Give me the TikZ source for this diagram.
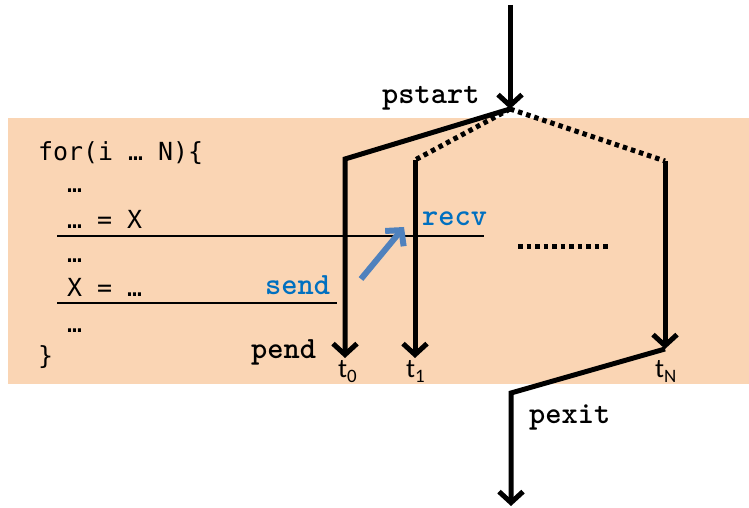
\documentclass[tikz,border=0pt]{standalone}
\usepackage{fontspec}
\setmainfont{Carlito}
\newfontfamily\codefont{DejaVu Sans Mono}
\newfontfamily\kwfont{Latin Modern Mono Light}
\usetikzlibrary{arrows.meta}
\definecolor{peach}{HTML}{FAD5B4}
\definecolor{sendblue}{HTML}{0070C0}
\definecolor{arrowblue}{HTML}{4F81BD}
\newcommand{\tsub}[1]{t\raisebox{-5bp}{\fontsize{19}{22}\selectfont #1}}

\begin{document}
\begin{tikzpicture}[x=1bp,y=-1bp,
  flow/.style={line width=5bp,line join=miter},
  tip/.style={-{Straight Barb[length=11bp,width=24bp]}},
  fork/.style={line width=5bp,dash pattern=on 4.5bp off 4bp},
  code/.style={anchor=base west,inner sep=0pt,font=\codefont\fontsize{25}{30}\selectfont},
  kw/.style={anchor=base west,inner sep=0pt,font=\kwfont\bfseries\fontsize{31}{34}\selectfont},
  tlab/.style={anchor=base west,inner sep=0pt,font=\fontsize{27}{30}\selectfont},
  rule/.style={line width=2.5bp}
]
  \useasboundingbox (0,0) rectangle (749,508);
  % loop body
  \fill[peach] (8,118) rectangle (749,384);

  % code
  \node[code] (for) at (38,161) {for(i … N)\{};
  \node[code] (l1) at (67,193) {…};
  \node[code] (rd) at (67,229) {… = X};
  \node[code] (l2) at (67,263) {…};
  \node[code] (wr) at (67,297) {X = …};
  \node[code] (l3) at (67,332) {…};
  \node[code] (close) at (38,364) {\}};
  \coordinate (rdL) at (57,236);
  \coordinate (rdR) at (484,236);
  \coordinate (wrL) at (57,303);
  \coordinate (wrR) at (337,303);
  \draw[rule] (rdL) -- (rdR);
  \draw[rule] (wrL) -- (wrR);

  % fork
  \coordinate (in) at (510,5);
  \coordinate (fork) at (510,109);
  \coordinate (c0) at (345,159);
  \coordinate (c1) at (415,160);
  \coordinate (cN) at (665,161);
  \coordinate (e0) at (345,358);
  \coordinate (e1) at (415,358);
  \coordinate (eN) at (665,349);
  \coordinate (join) at (511,393);
  \coordinate (out) at (511,506);
  \draw[flow,tip] (in) -- (fork);
  \draw[flow,tip] (fork) -- (c0) -- (e0);
  \draw[fork] (fork) -- (c1);
  \draw[flow,tip] (c1) -- (e1);
  \draw[fork] (fork) -- (cN);
  \draw[flow,tip] (cN) -- (eN);
  \draw[flow,tip] (eN) -- (join) -- (out);
  \coordinate (dotL) at (518,247);
  \coordinate (dotR) at (608,247);
  \draw[fork] (dotL) -- (dotR);

  % labels
  \node[kw] (pstart) at (382,104) {pstart};
  \node[kw] (pend) at (251,358) {pend};
  \node[kw] (pexit) at (529,423) {pexit};
  \node[kw,text=sendblue] (send) at (265,295) {send};
  \node[kw,text=sendblue] (recv) at (422,226) {recv};
  \node[tlab] (t0) at (338,377) {\tsub{0}};
  \node[tlab] (t1) at (406,377) {\tsub{1}};
  \node[tlab] (tN) at (655,377) {\tsub{N}};

  % communication
  \coordinate (sendpt) at (361,279);
  \coordinate (recvpt) at (404,227);
  \draw[arrowblue,line width=6bp,tip] (sendpt) -- (recvpt);
\end{tikzpicture}
\end{document}
